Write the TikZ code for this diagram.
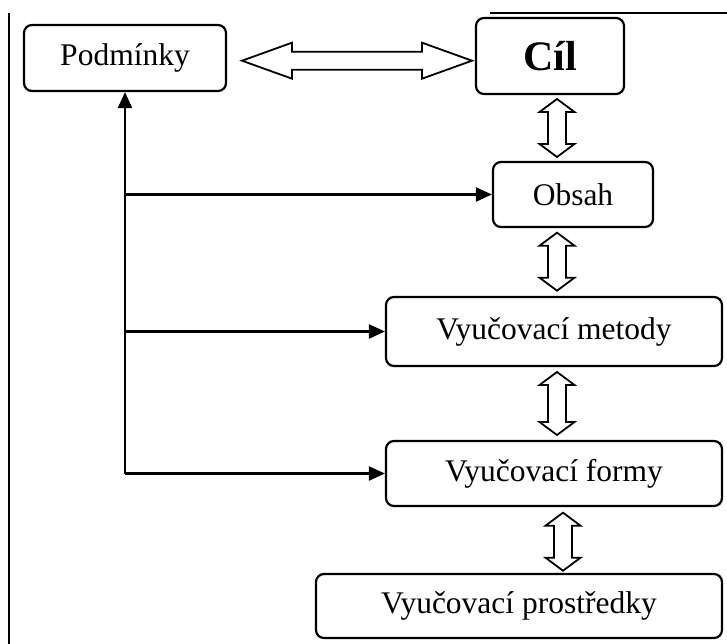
\documentclass[tikz,border=0pt]{standalone}
\usepackage{fontspec}
\setmainfont{Liberation Serif}
\usetikzlibrary{arrows.meta,positioning}
\tikzset
{
    box/.style = {rectangle, rounded corners=8pt, draw=black, line width=2.2pt, inner sep=0pt, align=center, font=\fontsize{31.5}{36}\selectfont},
    bothway/.style = {draw=black, fill=white, line width=1.8pt, line join=miter},
    arrow/.style = {line width=2.2pt, -{Triangle[length=16pt,width=14pt]}}
}
% vertical double arrow: x, top tip, bottom tip
\newcommand\bothwayV[3]{%
\draw[bothway] (#1-9,#2+13) -- (#1-17.5,#2+13) -- (#1,#2) -- (#1+17.5,#2+13) -- (#1+9,#2+13)
  -- (#1+9,#3-13) -- (#1+17.5,#3-13) -- (#1,#3) -- (#1-17.5,#3-13) -- (#1-9,#3-13) -- cycle;}

\begin{document}
\begin{tikzpicture}[x=1pt, y=-1pt]
\useasboundingbox (0,0) rectangle (727,644);
% page borders
\draw[line width=2pt] (9,13) -- (9,644);
\draw[line width=2pt] (490,12.7) -- (727,12.7);
% boxes
\node(podm) [box, minimum width=202pt, minimum height=66pt] at (125,58) {Podmínky};
\node(cil) [box, minimum width=148pt, minimum height=76pt, font=\fontsize{42}{48}\selectfont\bfseries] at (550,56) {Cíl};
\node(obsah) [box, minimum width=160pt, minimum height=65pt] at (573,194.5) {Obsah};
\node(metody) [box, minimum width=336pt, minimum height=69pt] at (554,331.5) {Vyučovací metody};
\node(formy) [box, minimum width=336pt, minimum height=65pt] at (554,473.5) {Vyučovací formy};
\node(prost) [box, minimum width=406pt, minimum height=64pt] at (519,606) {Vyučovací prostředky};
% double arrows
\draw[bothway] (292,51.7) -- (292,42.7) -- (242,60.7) -- (292,78.7) -- (292,69.7)
  -- (422,69.7) -- (422,78.7) -- (472,60.7) -- (422,42.7) -- (422,51.7) -- cycle;
\bothwayV{557}{99}{157}
\bothwayV{557}{232.7}{290.7}
\bothwayV{557}{372}{435}
\bothwayV{563}{512.7}{570.7}
% links from Podminky
\draw[arrow] (podm.south |- formy.west) -- (podm.south);
\draw[arrow] (podm.south |- obsah.west) -- (obsah.west);
\draw[arrow] (podm.south |- metody.west) -- (metody.west);
\draw[arrow] (podm.south |- formy.west) -- (formy.west);
\end{tikzpicture}
\end{document}
